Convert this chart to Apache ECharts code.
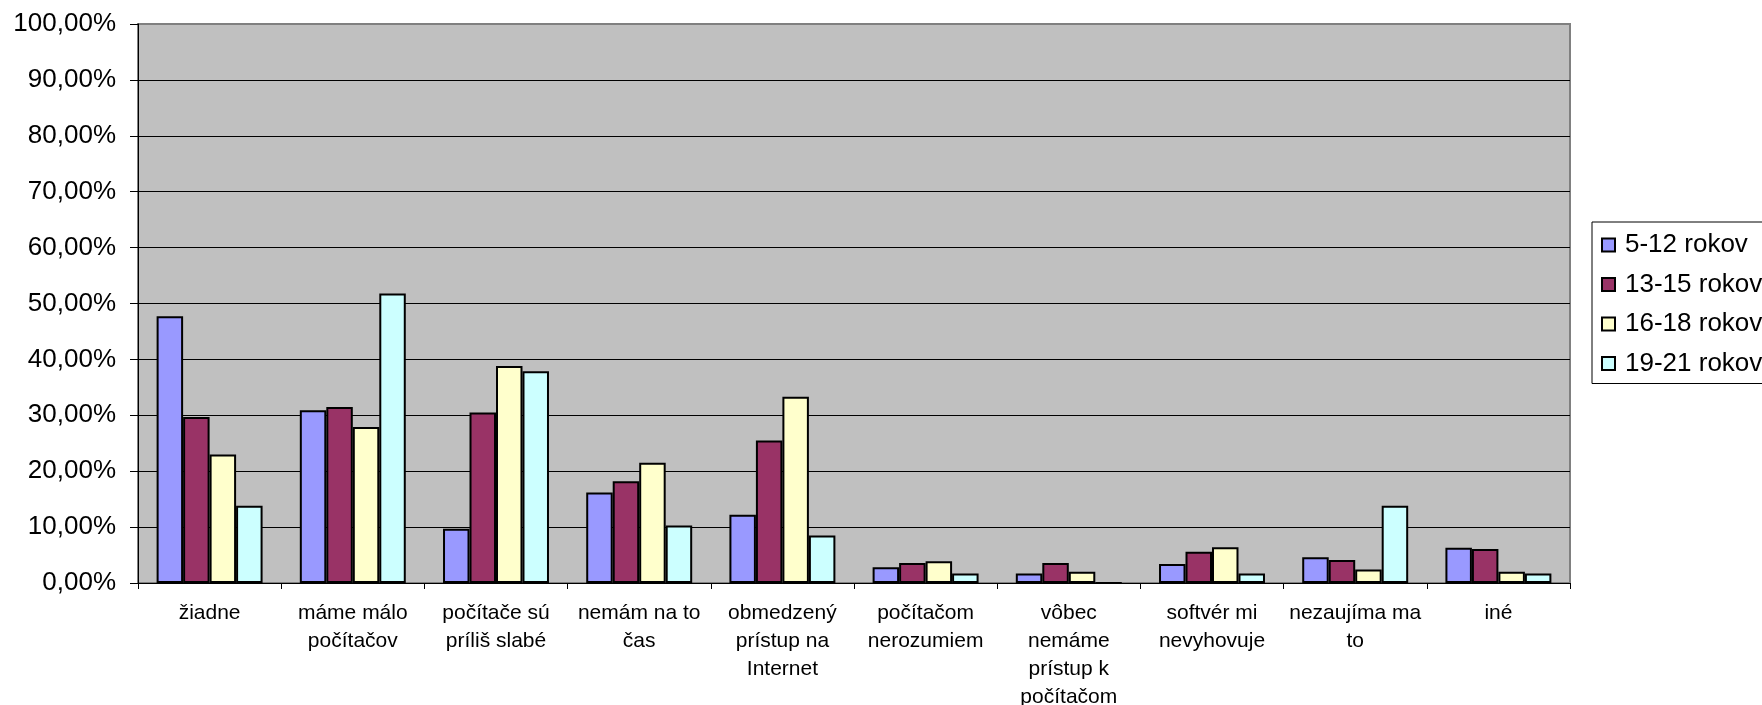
<!DOCTYPE html>
<html>
<head>
<meta charset="utf-8">
<script src="https://cdn.jsdelivr.net/npm/echarts@6/dist/echarts.min.js"></script>
<style>
  html, body { margin: 0; padding: 0; background: #fff; overflow: hidden; }
  #chart { width: 1762px; height: 705px; }
</style>
</head>
<body>
<div id="chart"></div>
<script>
// Reasons for not using computers, by age group (share of respondents, %)
const categories = [
  'žiadne',
  'máme málo počítačov',
  'počítače sú príliš slabé',
  'nemám na to čas',
  'obmedzený prístup na Internet',
  'počítačom nerozumiem',
  'vôbec nemáme prístup k počítačom',
  'softvér mi nevyhovuje',
  'nezaujíma ma to',
  'iné'
];
const seriesNames = ['5-12 rokov', '13-15 rokov', '16-18 rokov', '19-21 rokov'];
const age5to12  = [47.7, 30.9,  9.7, 16.2, 12.2, 2.8, 1.7, 3.4,  4.6, 6.3];
const age13to15 = [29.7, 31.5, 30.5, 18.2, 25.5, 3.6, 3.6, 5.6,  4.1, 6.1];
const age16to18 = [23.0, 27.9, 38.8, 21.5, 33.3, 3.9, 2.0, 6.4,  2.4, 2.0];
const age19to21 = [13.8, 51.8, 37.9, 10.3,  8.5, 1.7, 0,   1.7, 13.8, 1.7];
const yMin = 0, yMax = 100, yStep = 10;

const seriesValues = [age5to12, age13to15, age16to18, age19to21];
const colors = ['#9999FF', '#993366', '#FFFFCC', '#CCFFFF'];
const FONT = '"Liberation Sans", Arial, sans-serif';
const CAT_FONT_SIZE = 21;
const CAT_WRAP_WIDTH = 138;

// Greedy word wrap of category names using the label font's real metrics
const measureCtx = document.createElement('canvas').getContext('2d');
function wrapLabel(text) {
  measureCtx.font = CAT_FONT_SIZE + 'px ' + FONT;
  const words = text.split(' ');
  const lines = [];
  let line = '';
  for (const w of words) {
    const test = line ? line + ' ' + w : w;
    if (line && measureCtx.measureText(test).width > CAT_WRAP_WIDTH) {
      lines.push(line);
      line = w;
    } else {
      line = test;
    }
  }
  if (line) lines.push(line);
  return lines.join('\n');
}

// one split line per tick; the topmost one blends into the plot border
const splitColors = [];
for (let v = yMin; v <= yMax; v += yStep) splitColors.push(v === yMax ? '#808080' : '#000');

const chart = echarts.init(document.getElementById('chart'), null, { renderer: 'canvas' });
chart.setOption({
  animation: false,
  backgroundColor: '#fff',
  textStyle: { fontFamily: FONT, color: '#000' },
  grid: {
    left: 138, right: 192, top: 24, bottom: 122,
    outerBoundsMode: 'none',
    containLabel: false,
    show: true, backgroundColor: '#C0C0C0',
    borderColor: '#808080', borderWidth: 2
  },
  legend: {
    orient: 'vertical',
    left: 1592, top: 222,
    padding: [8, 40, 5, 9],
    itemGap: 9.5,
    itemWidth: 13, itemHeight: 13,
    icon: 'rect',
    backgroundColor: '#fff',
    borderColor: '#000', borderWidth: 1,
    itemStyle: { borderColor: '#000', borderWidth: 2 },
    textStyle: { fontFamily: FONT, fontSize: 26, lineHeight: 30, color: '#000', padding: [0, 0, 0, 5] },
    selectedMode: false,
    data: seriesNames
  },
  xAxis: {
    type: 'category',
    data: categories,
    axisLine: { lineStyle: { color: '#000', width: 1 } },
    axisTick: { show: true, length: 6, lineStyle: { color: '#000' } },
    axisLabel: {
      interval: 0, margin: 16,
      fontFamily: FONT, fontSize: CAT_FONT_SIZE, lineHeight: 28, color: '#000',
      formatter: wrapLabel
    },
    splitLine: { show: false }
  },
  yAxis: {
    type: 'value',
    min: yMin, max: yMax, interval: yStep,
    axisLine: { show: true, lineStyle: { color: '#000', width: 1 } },
    axisTick: { show: true, length: 8, lineStyle: { color: '#000' } },
    axisLabel: {
      margin: 22, fontFamily: FONT, fontSize: 26, color: '#000',
      formatter: v => v.toFixed(2).replace('.', ',') + '%'
    },
    splitLine: { show: true, lineStyle: { color: splitColors, width: 1 } }
  },
  series: seriesNames.map((name, i) => ({
    name: name,
    type: 'bar',
    data: seriesValues[i],
    barGap: '0%',
    barCategoryGap: '26%',
    itemStyle: { color: colors[i], borderColor: '#000', borderWidth: 2 },
    emphasis: { disabled: true }
  }))
});
</script>
</body>
</html>
